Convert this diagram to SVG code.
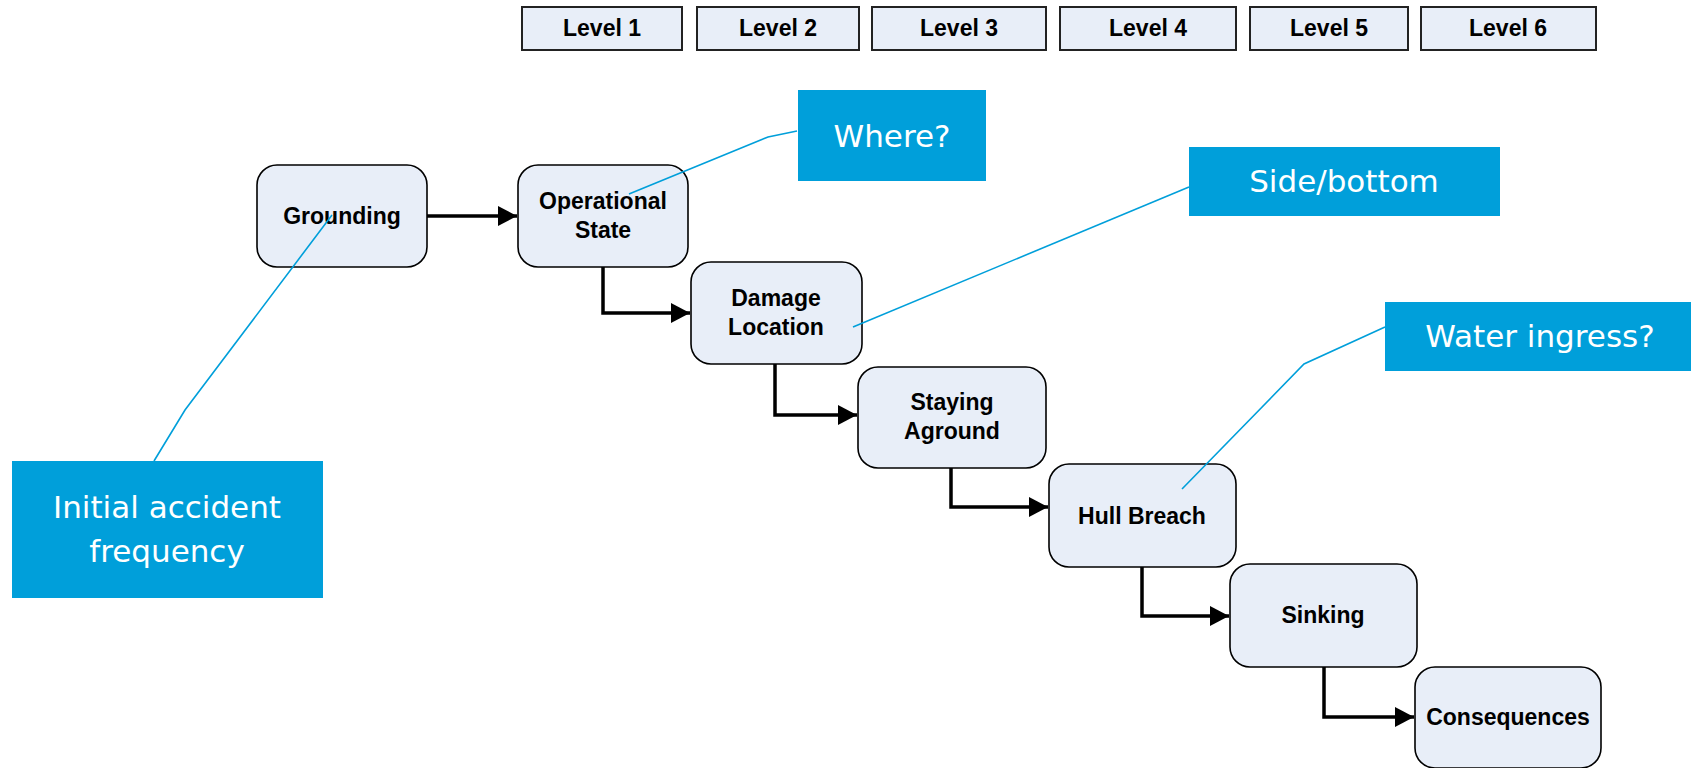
<svg xmlns="http://www.w3.org/2000/svg" width="1691" height="768" viewBox="0 0 1691 768">
<defs>
<style>
.lvl{fill:#E8EEF8;stroke:#222;stroke-width:2}
.lvt{font-family:"Liberation Sans",Arial,sans-serif;font-weight:bold;font-size:23px;fill:#000;text-anchor:middle}
.node{fill:#E8EEF8;stroke:#000;stroke-width:1.6}
.nt{font-family:"Liberation Sans",Arial,sans-serif;font-weight:bold;font-size:23px;fill:#000;text-anchor:middle}
.call{fill:#009FDA}
.ct{font-family:"DejaVu Sans",Verdana,sans-serif;font-size:31px;fill:#fff;text-anchor:middle}
.lead{fill:none;stroke:#009FDA;stroke-width:1.6}
.conn{fill:none;stroke:#000;stroke-width:3.5}
</style>
<marker id="ah" markerUnits="userSpaceOnUse" markerWidth="20" markerHeight="20" refX="19" refY="10" orient="auto">
<path d="M0,0 L19,10 L0,20 Z" fill="#000"/>
</marker>
</defs>
<rect width="1691" height="768" fill="#fff"/>
<g id="levels">
<g id="level1"><rect class="lvl" x="522" y="7" width="160" height="43"/><text class="lvt" x="602" y="36">Level 1</text></g>
<g id="level2"><rect class="lvl" x="697" y="7" width="162" height="43"/><text class="lvt" x="778" y="36">Level 2</text></g>
<g id="level3"><rect class="lvl" x="872" y="7" width="174" height="43"/><text class="lvt" x="959" y="36">Level 3</text></g>
<g id="level4"><rect class="lvl" x="1060" y="7" width="176" height="43"/><text class="lvt" x="1148" y="36">Level 4</text></g>
<g id="level5"><rect class="lvl" x="1250" y="7" width="158" height="43"/><text class="lvt" x="1329" y="36">Level 5</text></g>
<g id="level6"><rect class="lvl" x="1421" y="7" width="175" height="43"/><text class="lvt" x="1508" y="36">Level 6</text></g>
</g>
<g id="connectors">
<path class="conn" d="M427,216 H517" marker-end="url(#ah)"/>
<path class="conn" d="M603,267 V313 H690" marker-end="url(#ah)"/>
<path class="conn" d="M775,364 V415 H857" marker-end="url(#ah)"/>
<path class="conn" d="M951,468 V507 H1048" marker-end="url(#ah)"/>
<path class="conn" d="M1142,567 V616 H1229" marker-end="url(#ah)"/>
<path class="conn" d="M1324,667 V717 H1414" marker-end="url(#ah)"/>
</g>
<g id="grounding"><rect class="node" x="257" y="165" width="170" height="102" rx="20"/><text class="nt" x="342" y="224">Grounding</text></g>
<g id="operational-state"><rect class="node" x="518" y="165" width="170" height="102" rx="20"/><text class="nt" x="603" y="209">Operational</text><text class="nt" x="603" y="238">State</text></g>
<g id="damage-location"><rect class="node" x="691" y="262" width="171" height="102" rx="20"/><text class="nt" x="776" y="306">Damage</text><text class="nt" x="776" y="335">Location</text></g>
<g id="staying-aground"><rect class="node" x="858" y="367" width="188" height="101" rx="20"/><text class="nt" x="952" y="410">Staying</text><text class="nt" x="952" y="439">Aground</text></g>
<g id="hull-breach"><rect class="node" x="1049" y="464" width="187" height="103" rx="20"/><text class="nt" x="1142" y="524">Hull Breach</text></g>
<g id="sinking"><rect class="node" x="1230" y="564" width="187" height="103" rx="20"/><text class="nt" x="1323" y="623">Sinking</text></g>
<g id="consequences"><rect class="node" x="1415" y="667" width="186" height="101" rx="20"/><text class="nt" x="1508" y="725">Consequences</text></g>
<g id="leaders">
<polyline class="lead" points="154,461 185,410 332,215"/>
<polyline class="lead" points="629,194 768,137 797,131"/>
<polyline class="lead" points="853,327 1189,187"/>
<polyline class="lead" points="1385,327 1304,364 1182,489"/>
</g>
<g id="callout-initial"><rect class="call" x="12" y="461" width="311" height="137"/><text class="ct" x="167" y="518">Initial accident</text><text class="ct" x="167" y="562">frequency</text></g>
<g id="callout-where"><rect class="call" x="798" y="90" width="188" height="91"/><text class="ct" x="892" y="147">Where?</text></g>
<g id="callout-side"><rect class="call" x="1189" y="147" width="311" height="69"/><text class="ct" x="1344" y="192">Side/bottom</text></g>
<g id="callout-water"><rect class="call" x="1385" y="302" width="306" height="69"/><text class="ct" x="1540" y="347">Water ingress?</text></g>
</svg>
